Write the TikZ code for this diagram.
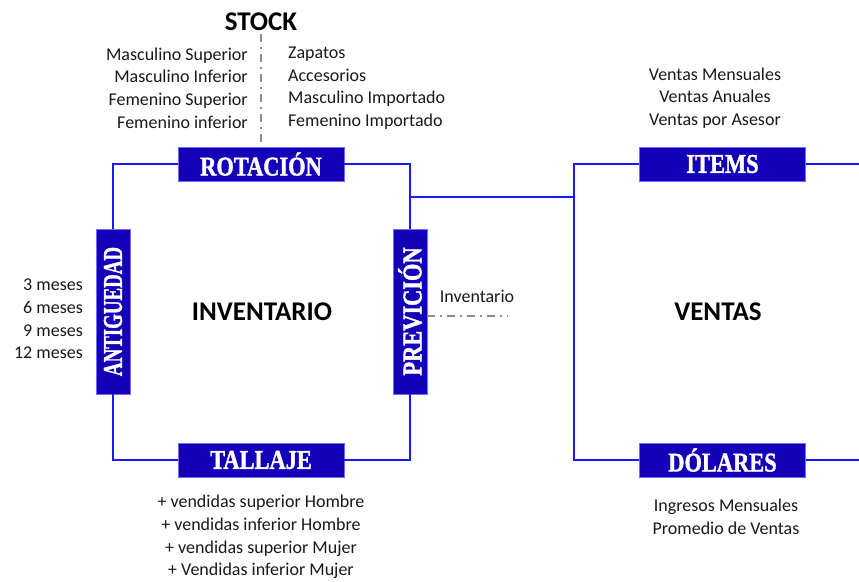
\documentclass[tikz,border=0pt]{standalone}
\usepackage{fontspec}
\setmainfont{Carlito}
\newfontfamily\tagfont[BoldFeatures={FakeBold=1.6}]{Liberation Serif}
\usepackage{graphicx}
\usetikzlibrary{positioning, calc}

\definecolor{tagblue}{RGB}{20,0,185}
\definecolor{tagedge}{RGB}{110,110,255}
\definecolor{frameblue}{RGB}{25,25,255}
\definecolor{hintgray}{RGB}{140,140,140}
\definecolor{listgray}{RGB}{25,25,25}

% condensed white label inside the blue boxes
\newcommand{\tagword}[2][0.83]{\scalebox{#1}[1]{#2}}

\begin{document}
\begin{tikzpicture}[x=1pt, y=-1pt]
    % --- Style Definitions ---
    \tikzset{
        % Blue label boxes
        tag box/.style={
            draw=tagedge,
            line width=0.8pt,
            fill=tagblue,
            text=white,
            minimum width=166pt,
            minimum height=34pt,
            inner sep=0pt,
            font=\tagfont\bfseries\fontsize{27}{27}\selectfont
        },
        side tag/.style={
            tag box,
            rotate=90,
            minimum width=165pt,
            minimum height=34pt
        },
        % Lines
        frame line/.style={draw=frameblue, line width=1.5pt},
        hint line/.style={
            draw=hintgray,
            line width=1.2pt,
            dash pattern=on 8pt off 5pt on 2pt off 5pt
        },
        % Text styling
        list text/.style={
            font=\fontsize{18}{22.6}\selectfont,
            text=listgray,
            inner sep=0pt
        },
        title text/.style={font=\bfseries\fontsize{27}{27}\selectfont}
    }

    \useasboundingbox (0,0) rectangle (859,581);

    % ==========================================
    % LEFT BLOCK: Inventario
    % ==========================================

    % 1. Title
    \node[title text] (stock) at (261,22) {STOCK};
    \node[title text] (inventario) at (262,312) {INVENTARIO};

    % 2. Label boxes
    \node[tag box] (rotacion) at (261,164) {\tagword{ROTACIÓN}};
    \node[tag box] (tallaje) at (261,460) {\tagword{TALLAJE}};
    \node[side tag] (antiguedad) at (113,311.5) {\tagword[0.70]{ANTIGUEDAD}};
    \node[side tag] (prevision) at (410,311.5) {\tagword{PREVICIÓN}};

    % 3. Frame
    \draw[frame line] (antiguedad.east) |- (rotacion.west);
    \draw[frame line] (rotacion.east) -| (prevision.east);
    \draw[frame line] (prevision.west) |- (tallaje.east);
    \draw[frame line] (tallaje.west) -| (antiguedad.west);

    % 4. Lists
    \node[list text, align=right, anchor=east] (stock left) at (248,88)
        {Masculino Superior\\Masculino Inferior\\Femenino Superior\\Femenino inferior};
    \node[list text, align=left, anchor=west] (stock right) at (288,88)
        {Zapatos\\Accesorios\\Masculino Importado\\Femenino Importado};
    \node[list text, align=right, anchor=east] (meses) at (83,319)
        {3 meses\\6 meses\\9 meses\\12 meses};
    \node[list text, align=center] (tallas) at (261,537)
        {+ vendidas superior Hombre\\+ vendidas inferior Hombre\\+ vendidas superior Mujer\\+ Vendidas inferior Mujer};
    \node[list text] (inv label) at (477,296) {Inventario};

    % 5. Dash-dot hints
    \coordinate (inv end) at (508,316);
    \draw[hint line] (rotacion.north |- stock.south) -- (rotacion.north);
    \draw[hint line] (prevision.south |- inv end) -- (inv end);

    % ==========================================
    % RIGHT BLOCK: Ventas
    % ==========================================

    % 1. Title
    \node[title text] (ventas) at (718,312) {VENTAS};

    % 2. Label boxes
    \node[tag box] (items) at (722.5,164) {\tagword{ITEMS}};
    \node[tag box] (dolares) at (722.5,460) {\tagword{DÓLARES}};

    % 3. Frame and link
    \coordinate (ventas left) at (574,197);
    \coordinate (ventas edge) at (574,311.5);
    \coordinate (cut right) at (859,311.5);
    \draw[frame line] (prevision.east |- ventas left) -- (ventas left);
    \draw[frame line] (items.west) -| (ventas edge) |- (dolares.west);
    \draw[frame line] (items.east) -- (items.east -| cut right);
    \draw[frame line] (dolares.east) -- (dolares.east -| cut right);

    % 4. Lists
    \node[list text, align=center] (ventas items) at (715,98)
        {Ventas Mensuales\\Ventas Anuales\\Ventas por Asesor};
    \node[list text, align=center] (ventas dolares) at (726,517)
        {Ingresos Mensuales\\Promedio de Ventas};

\end{tikzpicture}
\end{document}
